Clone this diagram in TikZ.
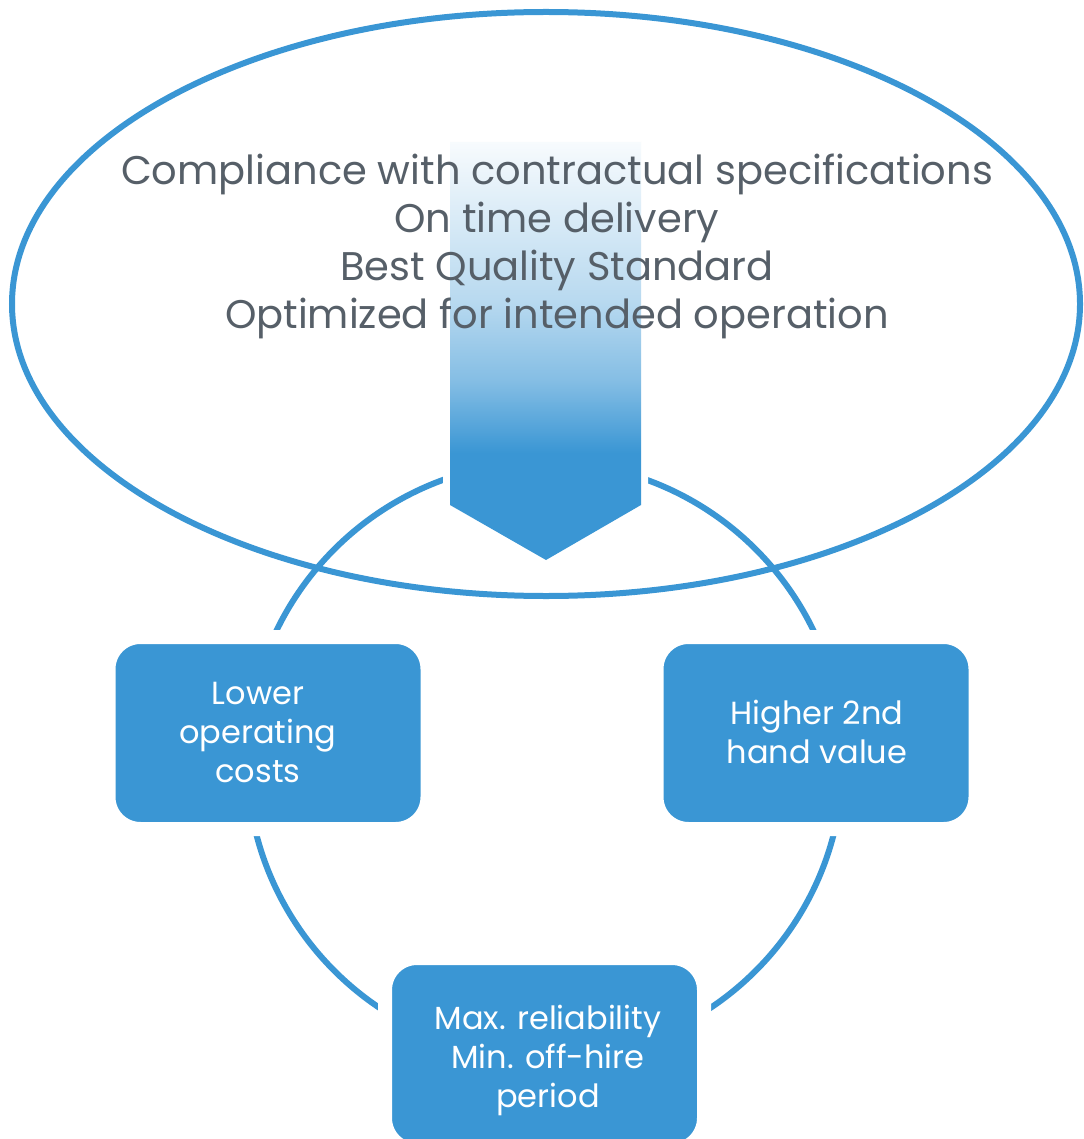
\documentclass[tikz,border=0pt]{standalone}
\usepackage{fontspec}
\setmainfont{Poppins}
\usetikzlibrary{shapes.geometric}
\definecolor{mblue}{HTML}{3A96D4}
\definecolor{mgrey}{HTML}{565F68}
\colorlet{shA}{mblue!62!white}
\colorlet{shB}{mblue!36!white}
\colorlet{shC}{mblue!4!white}
\pgfdeclareverticalshading{arrowshade}{100bp}{color(0bp)=(mblue); color(37.8bp)=(mblue); color(46.5bp)=(shA); color(56bp)=(shB); color(75bp)=(shC); color(100bp)=(shC)}
\tikzset{
  ring/.style={draw=mblue, line width=6pt, inner sep=0pt, fill=none},
  bluebox/.style={rectangle, rounded corners=32pt, fill=mblue, draw=white, line width=14pt, minimum width=319pt, minimum height=192pt, inner sep=0pt},
  boxtext/.style={align=center, text=white, font=\fontsize{32}{39}\selectfont, inner sep=0pt},
  bigtext/.style={align=center, text=mgrey, font=\fontsize{40}{48}\selectfont, inner sep=0pt}
}
\begin{document}
\begin{tikzpicture}[x=1pt,y=-1pt]
\useasboundingbox (0,0) rectangle (1083,1139);
\node[ring, circle, minimum size=596pt] (cyc) at (545,760) {};
\node[ring, ellipse, minimum width=1068pt, minimum height=584pt] (oval) at (546,304) {};
\path[draw=white, line width=14pt, line join=miter] (450,142) -- (641,142) -- (641,505) -- (546,560) -- (450,505) -- cycle;
\path[shading=arrowshade] (450,142) -- (641,142) -- (641,505) -- (546,560) -- (450,505) -- cycle;
\node[bigtext] (goals) at (557,246) {Compliance with contractual specifications\\On time delivery\\Best Quality Standard\\Optimized for intended operation};
\node[bluebox] (lowbox) at (268,733) {};
\node[bluebox] (highbox) at (816,733) {};
\node[bluebox] (maxbox) at (544.5,1054) {};
\node[boxtext] (lowtxt) at (258,732) {Lower\\operating\\costs};
\node[boxtext] (hightxt) at (817,732) {Higher 2nd\\hand value};
\node[boxtext] (maxtxt) at (548,1060) {Max. reliability\\Min. off-hire\\period};
\end{tikzpicture}
\end{document}
